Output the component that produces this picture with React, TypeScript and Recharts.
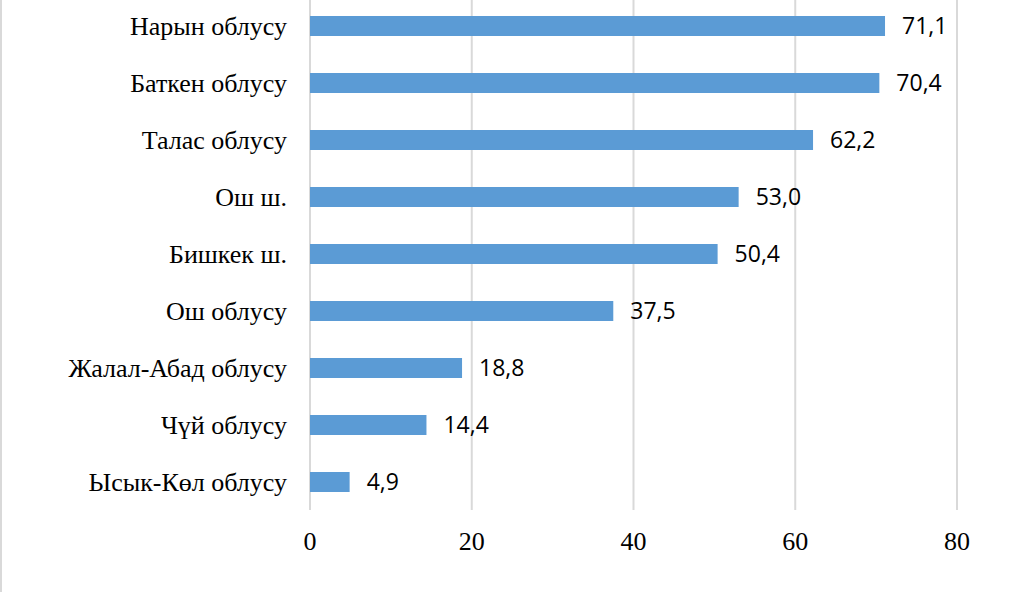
import { BarChart, Bar, XAxis, YAxis, CartesianGrid, LabelList } from "recharts";

const regions = [
  "Нарын облусу",
  "Баткен облусу",
  "Талас облусу",
  "Ош ш.",
  "Бишкек ш.",
  "Ош облусу",
  "Жалал-Абад облусу",
  "Чүй облусу",
  "Ысык-Көл облусу",
];
const values = [71.1, 70.4, 62.2, 53.0, 50.4, 37.5, 18.8, 14.4, 4.9];
const xTicks = [0, 20, 40, 60, 80];

const data = regions.map((name, i) => ({ name, value: values[i] }));

const fmt = (v: any) => Number(v).toFixed(1).replace(".", ",");

const serif = "Liberation Serif, Times New Roman, serif";

export default function App() {
  return (
    <div
      style={{
        position: "absolute",
        left: 0,
        top: 0,
        width: 1014,
        height: 601,
        background: "#fff",
        fontFamily: serif,
      }}
    >
      <div style={{ position: "absolute", left: 0, top: 0, width: 2, height: 592, background: "#d9d9d9" }} />
      <BarChart
        width={1014}
        height={601}
        data={data}
        layout="vertical"
        margin={{ top: -3, right: 57, bottom: 51, left: 0 }}
        style={{ fontFamily: serif }}
      >
        <CartesianGrid horizontal={false} stroke="#d9d9d9" strokeWidth={2} />
        <XAxis
          type="number"
          domain={[0, 80]}
          ticks={xTicks}
          axisLine={false}
          tickLine={false}
          tickSize={0}
          tickMargin={22}
          height={40}
          interval={0}
          tick={{ fill: "#000", fontSize: 26, style: { fontFamily: serif } }}
        />
        <YAxis
          type="category"
          dataKey="name"
          width={310}
          axisLine={false}
          tickLine={false}
          tickSize={0}
          tickMargin={23}
          interval={0}
          tick={{ fill: "#000", fontSize: 26, style: { fontFamily: serif } }}
        />
        <Bar dataKey="value" fill="#5b9bd5" barSize={20} isAnimationActive={false}>
          <LabelList
            dataKey="value"
            position="right"
            offset={17}
            formatter={fmt}
            style={{ fill: "#000", fontSize: 23, fontFamily: "Open Sans, sans-serif" }}
          />
        </Bar>
      </BarChart>
    </div>
  );
}
